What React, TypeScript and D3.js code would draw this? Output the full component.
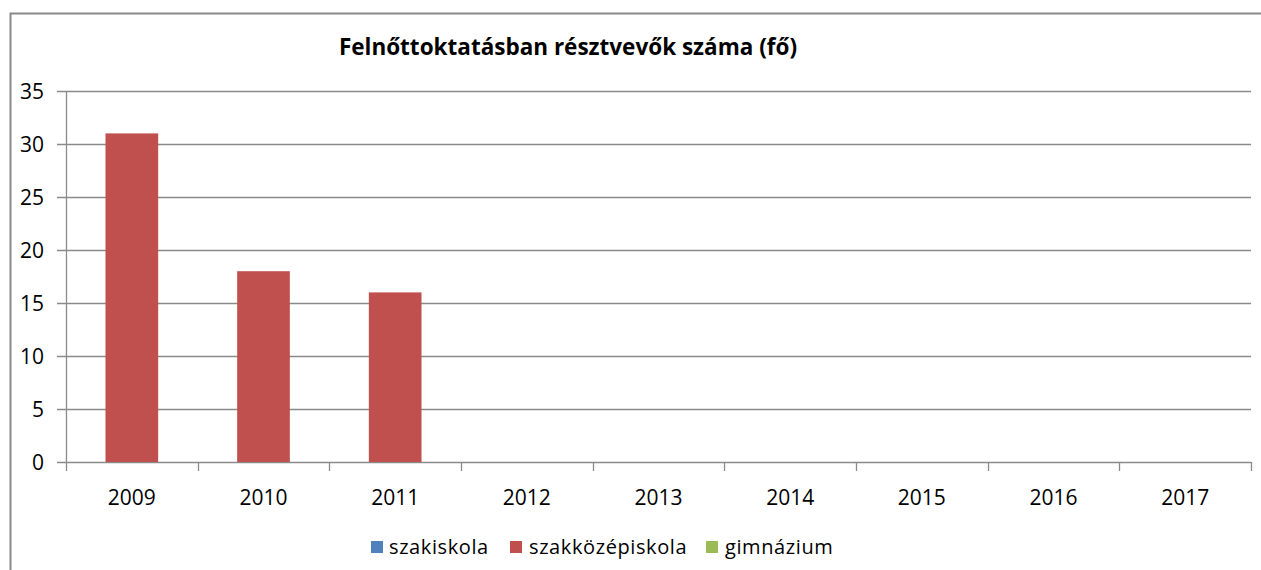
import React from "react";
import * as d3 from "d3";

const categories = ["2009", "2010", "2011", "2012", "2013", "2014", "2015", "2016", "2017"];
const seriesNames = ["szakiskola", "szakközépiskola", "gimnázium"];
const seriesColors = ["#4F81BD", "#C0504D", "#9BBB59"];
const szakiskola: (number | null)[] = [null, null, null, null, null, null, null, null, null];
const szakkozepiskola: (number | null)[] = [31, 18, 16, null, null, null, null, null, null];
const gimnazium: (number | null)[] = [null, null, null, null, null, null, null, null, null];
const yTicks = [0, 5, 10, 15, 20, 25, 30, 35];
const title = "Felnőttoktatásban résztvevők száma (fő)";

const W = 1261;
const H = 570;
const plot = { left: 66, right: 1251, top: 91, bottom: 462 };
const FONT = "'Open Sans', 'Liberation Sans', sans-serif";

export default function App() {
  const x = d3.scaleBand<string>().domain(categories).range([plot.left, plot.right]).padding(0);
  const y = d3.scaleLinear().domain([0, 35]).range([plot.bottom, plot.top]);
  const barW = x.bandwidth() * 0.4;
  const series = [szakiskola, szakkozepiskola, gimnazium];
  const gridColor = "#8a8a8a";

  const legendItems = [
    { x: 371, tx: 389 },
    { x: 510, tx: 529 },
    { x: 706, tx: 725 },
  ];

  return (
    <svg
      width={W}
      height={H}
      style={{ position: "absolute", left: 0, top: 0, background: "#fff" }}
    >
      <rect x={0} y={0} width={W} height={H} fill="#fff" />
      <rect x={10.5} y={13.5} width={1400} height={700} fill="none" stroke="#888" strokeWidth={2} />
      <text
        x={568}
        y={55}
        textAnchor="middle"
        fontFamily={FONT}
        fontWeight="bold"
        fontSize={22.5}
        fill="#000"
      >
        {title}
      </text>
      {yTicks.map((t) => (
        <g key={t}>
          <line
            x1={plot.left - 9}
            x2={plot.right}
            y1={Math.round(y(t)) + 0.5}
            y2={Math.round(y(t)) + 0.5}
            stroke={gridColor}
            strokeWidth={1.3}
          />
          <text
            x={44}
            y={y(t) + 7.5}
            textAnchor="end"
            fontFamily={FONT}
            fontSize={21}
            fill="#000"
          >
            {t}
          </text>
        </g>
      ))}
      <line x1={plot.left + 0.5} x2={plot.left + 0.5} y1={plot.top} y2={plot.bottom} stroke={gridColor} strokeWidth={1.3} />
      {categories.map((c, i) => (
        <g key={c}>
          <line
            x1={Math.round(x(c)!) + 0.5}
            x2={Math.round(x(c)!) + 0.5}
            y1={plot.bottom}
            y2={plot.bottom + 9}
            stroke={gridColor}
            strokeWidth={1.3}
          />
          <text
            x={x(c)! + x.bandwidth() / 2}
            y={505}
            textAnchor="middle"
            fontFamily={FONT}
            fontSize={21}
            fill="#000"
          >
            {c}
          </text>
          {series.map((s, si) =>
            s[i] != null ? (
              <rect
                key={si}
                x={x(c)! + x.bandwidth() / 2 - barW / 2}
                y={y(s[i] as number)}
                width={barW}
                height={y(0) - y(s[i] as number)}
                fill={seriesColors[si]}
              />
            ) : null
          )}
        </g>
      ))}
      <line x1={plot.right + 0.5} x2={plot.right + 0.5} y1={plot.bottom} y2={plot.bottom + 9} stroke={gridColor} strokeWidth={1.3} />
      {seriesNames.map((n, i) => (
        <g key={n}>
          <rect x={legendItems[i].x} y={541} width={12} height={12} fill={seriesColors[i]} />
          <text
            x={legendItems[i].tx}
            y={554}
            fontFamily={FONT}
            fontSize={20}
            letterSpacing={0.6}
            fill="#000"
          >
            {n}
          </text>
        </g>
      ))}
    </svg>
  );
}
